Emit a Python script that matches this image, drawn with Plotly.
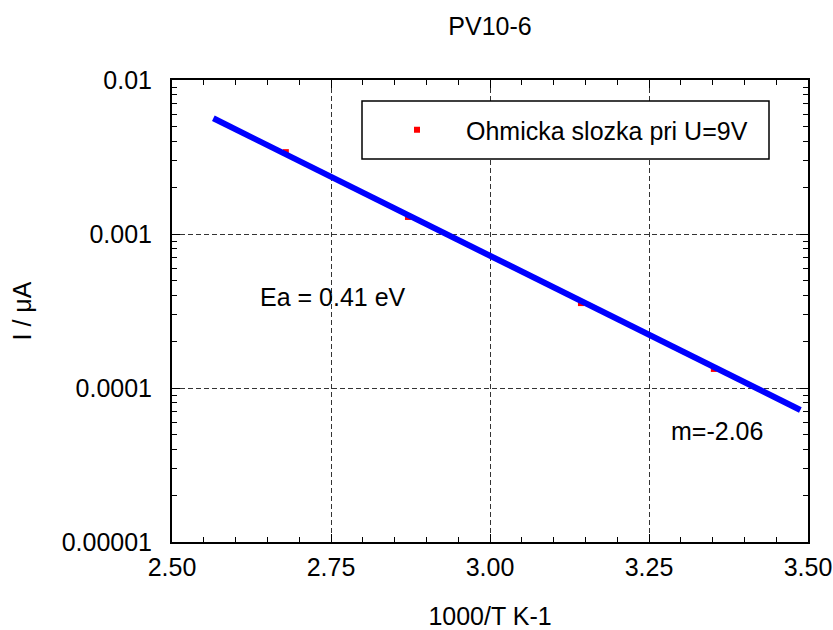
import plotly.graph_objects as go

# ---- data ----
inv_T = [2.679, 2.871, 3.143, 3.352]          # 1000/T  [K^-1]
current = [0.0034, 0.00129, 0.000356, 0.000133]  # I [uA]

fit_x = [2.565, 3.488]
fit_y = [0.00564, 7.2e-5]

series_name = "Ohmicka slozka pri U=9V"
x_ticks = [2.50, 2.75, 3.00, 3.25, 3.50]
y_ticks = [0.01, 0.001, 0.0001, 0.00001]
y_tick_text = ["0.01", "0.001", "0.0001", "0.00001"]

FONT = "Liberation Sans, Arial, sans-serif"
FS = 25

W, H = 833, 630
L, R, T, B = 172, 25, 80, 88

fig = go.Figure()
fig.add_trace(go.Scatter(
    x=inv_T, y=current, mode="markers", name=series_name,
    marker=dict(symbol="square", size=6, color="#ff0000", line=dict(width=0)),
))
fig.add_trace(go.Scatter(
    x=fit_x, y=fit_y, mode="lines", showlegend=False,
    line=dict(color="#0000ff", width=6),
))

minor_y = [k * 10 ** e for e in range(-5, -2) for k in range(2, 10)]

fig.update_layout(
    width=W, height=H,
    margin=dict(l=L, r=R, t=T, b=B, autoexpand=False),
    paper_bgcolor="white", plot_bgcolor="white",
    font=dict(family=FONT, size=FS, color="black"),
    title=dict(text="PV10-6", x=0.5 * (L + W - R) / W, xanchor="center",
               y=1 - 26 / H, yanchor="middle", yref="container",
               font=dict(size=FS)),
    xaxis=dict(
        range=[2.5, 3.5], tickvals=x_ticks, tickformat=".2f",
        ticks="inside", ticklen=8, tickwidth=1, tickcolor="black",
        showline=True, linecolor="black", linewidth=2, mirror="allticks",
        showgrid=True, gridcolor="#333333", gridwidth=1, griddash="5px,3px",
        zeroline=False,
        minor=dict(dtick=0.05, ticks="inside", ticklen=5, tickcolor="black",
                   showgrid=False),
        title=dict(text="1000/T K-1", standoff=52, font=dict(size=FS)),
        ticklabelstandoff=2,
    ),
    yaxis=dict(
        type="log", range=[-5, -2], tickvals=y_ticks, ticktext=y_tick_text,
        ticks="inside", ticklen=8, tickwidth=1, tickcolor="black",
        showline=True, linecolor="black", linewidth=2, mirror="allticks",
        showgrid=True, gridcolor="#333333", gridwidth=1, griddash="5px,3px",
        zeroline=False,
        minor=dict(tickvals=minor_y, ticks="inside", ticklen=5,
                   tickcolor="black", showgrid=False),
        title=dict(text="I / μA", standoff=23, font=dict(size=FS)),
        ticklabelstandoff=13,
    ),
    showlegend=True,
    legend=dict(
        x=(368 - L) / (W - L - R), y=1 - (130 - T) / (H - T - B),
        xanchor="left", yanchor="middle",
        bgcolor="rgba(0,0,0,0)", borderwidth=0,
        itemwidth=88, font=dict(size=FS),
    ),
)

# legend frame (white filled box)
pw, ph = W - L - R, H - T - B
fig.add_shape(type="rect", xref="paper", yref="paper",
              x0=(362 - L) / pw, x1=(769 - L) / pw,
              y0=1 - (159 - T) / ph, y1=1 - (101 - T) / ph,
              line=dict(color="black", width=1.5), fillcolor="white",
              layer="above")

fig.add_annotation(x=2.635, y=-3.409, xref="x", yref="y", text="Ea = 0.41 eV",
                   showarrow=False, xanchor="left", yanchor="middle",
                   font=dict(size=FS))
fig.add_annotation(x=3.281, y=-4.279, xref="x", yref="y", text="m=-2.06",
                   showarrow=False, xanchor="left", yanchor="middle",
                   font=dict(size=FS))

fig.write_html("out.html", config={"displayModeBar": False},
               post_script="document.body.style.margin='0';")
